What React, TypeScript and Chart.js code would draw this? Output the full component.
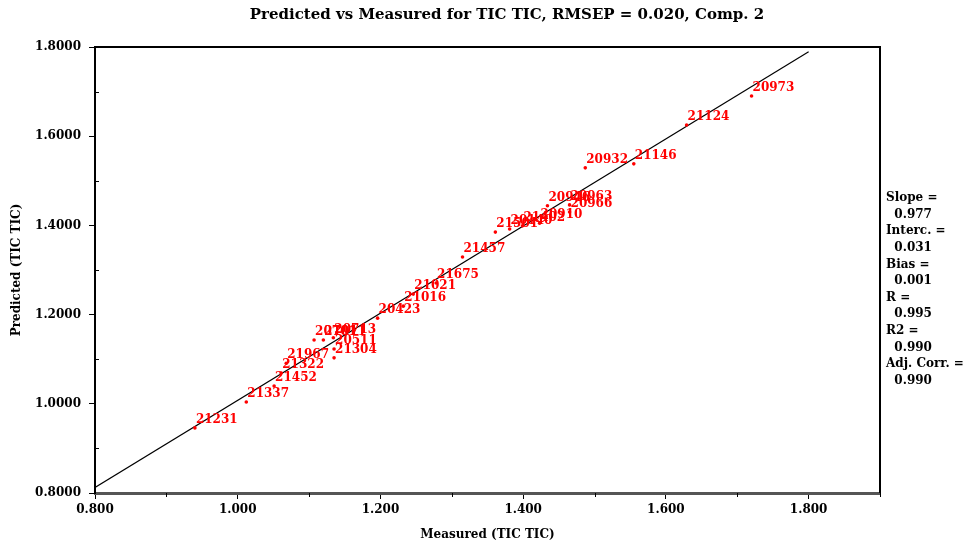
import React, { useEffect, useRef } from "react";
import { Chart, registerables } from "chart.js";

Chart.register(...registerables);

const sampleIds = [
  "21231", "21337", "21452", "21322", "21967", "20701", "21011", "20713", "20511", "21304",
  "20423", "21016", "21021", "21675", "21457", "21501", "20140", "21402", "20910", "20946",
  "20963", "20966", "20932", "21146", "21124", "20973",
];
const measured = [
  0.940, 1.012, 1.051, 1.061, 1.068, 1.107, 1.120, 1.134, 1.135, 1.135,
  1.196, 1.232, 1.246, 1.278, 1.315, 1.361, 1.381, 1.399, 1.423, 1.434,
  1.465, 1.465, 1.487, 1.555, 1.629, 1.720,
];
const predicted = [
  0.946, 1.004, 1.040, 1.069, 1.091, 1.143, 1.143, 1.148, 1.123, 1.103,
  1.192, 1.219, 1.246, 1.271, 1.329, 1.385, 1.392, 1.399, 1.405, 1.444,
  1.446, 1.430, 1.529, 1.538, 1.625, 1.690,
];
const fitLineX = [0.8, 1.8];
const fitLineY = [0.8126, 1.7896];
const statsLines = [
  "Slope =", "  0.977", "Interc. =", "  0.031", "Bias =", "  0.001",
  "R =", "  0.995", "R2 =", "  0.990", "Adj. Corr. =", "  0.990",
];
const titleText = "Predicted vs Measured for TIC TIC, RMSEP = 0.020, Comp. 2";
const xTitle = "Measured (TIC TIC)";
const yTitle = "Predicted (TIC TIC)";

const FONT = "'DejaVu Serif', serif";

const isMajor = (v: number) => Math.round(v * 10) % 2 === 0;

const overlayPlugin = {
  id: "overlay",
  afterDatasetsDraw(chart: any) {
    const { ctx, chartArea } = chart;
    const { left, right, top, bottom } = chartArea;
    ctx.save();
    // frame top and right
    ctx.strokeStyle = "#000";
    ctx.lineWidth = 2;
    ctx.beginPath();
    ctx.moveTo(left, top);
    ctx.lineTo(right, top);
    ctx.lineTo(right, bottom);
    ctx.stroke();
    // minor ticks
    ctx.lineWidth = 1;
    const xs = chart.scales.x;
    const ys = chart.scales.y;
    xs.ticks.forEach((t: any) => {
      if (!isMajor(t.value)) {
        const px = Math.round(xs.getPixelForValue(t.value)) + 0.5;
        ctx.beginPath();
        ctx.moveTo(px, bottom);
        ctx.lineTo(px, bottom + 4);
        ctx.stroke();
      }
    });
    ys.ticks.forEach((t: any) => {
      if (!isMajor(t.value)) {
        const py = Math.round(ys.getPixelForValue(t.value)) + 0.5;
        ctx.beginPath();
        ctx.moveTo(left, py);
        ctx.lineTo(left + 4, py);
        ctx.stroke();
      }
    });
    // point labels
    const meta = chart.getDatasetMeta(0);
    ctx.fillStyle = "#ff0000";
    ctx.font = `bold 12px ${FONT}`;
    ctx.textAlign = "left";
    ctx.textBaseline = "alphabetic";
    meta.data.forEach((el: any, i: number) => {
      ctx.fillText(sampleIds[i], el.x + 1, el.y - 5);
    });
    ctx.restore();
  },
  afterDraw(chart: any) {
    const { ctx, chartArea } = chart;
    ctx.save();
    ctx.fillStyle = "#000";
    ctx.font = `bold 15px ${FONT}`;
    ctx.textAlign = "center";
    ctx.textBaseline = "middle";
    ctx.fillText(titleText, 507, 15);
    ctx.font = `bold 12px ${FONT}`;
    ctx.textAlign = "left";
    statsLines.forEach((s, i) => {
      ctx.fillText(s, chartArea.right + 6, 198 + i * 16.6);
    });
    ctx.restore();
  },
};

export default function App() {
  const ref = useRef<HTMLCanvasElement | null>(null);
  useEffect(() => {
    if (!ref.current) return;
    const chart = new Chart(ref.current, {
      type: "scatter",
      data: {
        datasets: [
          {
            data: measured.map((m, i) => ({ x: m, y: predicted[i] })),
            backgroundColor: "#ff0000",
            borderColor: "#ff0000",
            pointRadius: 1.8,
            pointBorderWidth: 0,
          },
          {
            type: "line",
            data: fitLineX.map((x, i) => ({ x, y: fitLineY[i] })),
            borderColor: "#000",
            borderWidth: 1.2,
            pointRadius: 0,
            fill: false,
          } as any,
        ],
      },
      options: {
        responsive: false,
        animation: false,
        events: [],
        layout: { padding: { top: 47, right: 88, left: 0, bottom: 0 } },
        plugins: { legend: { display: false }, tooltip: { enabled: false }, title: { display: false } },
        scales: {
          x: {
            type: "linear",
            min: 0.8,
            max: 1.9,
            afterFit: (s: any) => { s.height = 56; },
            border: { color: "#555", width: 3 },
            grid: {
              drawOnChartArea: false,
              tickLength: 6,
              color: (c: any) => (c.tick && isMajor(c.tick.value) ? "#000" : "rgba(0,0,0,0)"),
            },
            ticks: {
              stepSize: 0.1,
              autoSkip: false,
              maxRotation: 0,
              padding: 4,
              color: "#000",
              font: { family: FONT, weight: "bold", size: 12 },
              callback: (v: any) => (isMajor(Number(v)) && Number(v) < 1.85 ? Number(v).toFixed(3) : ""),
            },
            title: {
              display: true,
              text: xTitle,
              color: "#000",
              font: { family: FONT, weight: "bold", size: 12 },
              padding: { top: 0, bottom: 7 },
            },
          },
          y: {
            type: "linear",
            min: 0.8,
            max: 1.8,
            afterFit: (s: any) => { s.width = 95; },
            border: { color: "#000", width: 2 },
            grid: {
              drawOnChartArea: false,
              tickLength: 6,
              color: (c: any) => (c.tick && isMajor(c.tick.value) ? "#000" : "rgba(0,0,0,0)"),
            },
            ticks: {
              stepSize: 0.1,
              autoSkip: false,
              padding: 8,
              color: "#000",
              font: { family: FONT, weight: "bold", size: 12 },
              callback: (v: any) => (isMajor(Number(v)) ? Number(v).toFixed(4) : ""),
            },
            title: {
              display: true,
              text: yTitle,
              color: "#000",
              font: { family: FONT, weight: "bold", size: 12 },
              padding: { top: 10, bottom: 0 },
            },
          },
        },
      },
      plugins: [overlayPlugin],
    } as any);
    return () => chart.destroy();
  }, []);
  return (
    <div style={{ position: "fixed", left: 0, top: 0, width: 968, height: 549, background: "#fff" }}>
      <canvas ref={ref} width={968} height={549} style={{ display: "block" }} />
    </div>
  );
}
